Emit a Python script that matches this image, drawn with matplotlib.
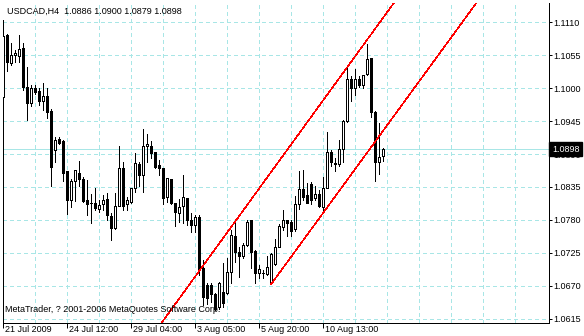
import matplotlib
matplotlib.use("Agg")
import matplotlib.pyplot as plt
from matplotlib.transforms import ScaledTranslation, blended_transform_factory

plt.rcParams['font.family'] = ['Liberation Sans', 'DejaVu Sans']
plt.rcParams['lines.scale_dashes'] = False

symbol = "USDCAD"
timeframe = "H4"

opens = [1.0985, 1.1089, 1.1042, 1.1056, 1.1054, 1.1067, 1.1002, 1.0976, 1.1000, 1.0996,
         1.0979, 1.0987, 1.0962, 1.0896, 1.0915, 1.0912, 1.0862, 1.0813, 1.0845, 1.0858,
         1.0848, 1.0813, 1.0809, 1.0808, 1.0799, 1.0807, 1.0815, 1.0787, 1.0767, 1.0803,
         1.0866, 1.0807, 1.0810, 1.0834, 1.0873, 1.0855, 1.0903, 1.0903, 1.0893, 1.0872,
         1.0866, 1.0819, 1.0848, 1.0808, 1.0792, 1.0803, 1.0816, 1.0780, 1.0772, 1.0785,
         1.0700, 1.0671, 1.0671, 1.0656, 1.0635, 1.0660, 1.0658, 1.0693, 1.0753, 1.0727,
         1.0719, 1.0738, 1.0779, 1.0728, 1.0691, 1.0692, 1.0690, 1.0674, 1.0706, 1.0735,
         1.0768, 1.0779, 1.0777, 1.0764, 1.0807, 1.0831, 1.0822, 1.0840, 1.0816, 1.0824,
         1.0802, 1.0833, 1.0894, 1.0875, 1.0873, 1.0898, 1.0945, 1.1015, 1.1000, 1.1015,
         1.1005, 1.1023, 1.1050, 1.0961, 1.0877, 1.0886]
highs = [1.1114, 1.1090, 1.1075, 1.1064, 1.1089, 1.1076, 1.1036, 1.1005, 1.1005, 1.1000,
         1.1008, 1.1000, 1.0966, 1.0919, 1.0919, 1.0913, 1.0862, 1.0848, 1.0864, 1.0878,
         1.0852, 1.0847, 1.0824, 1.0833, 1.0813, 1.0822, 1.0825, 1.0792, 1.0825, 1.0903,
         1.0877, 1.0819, 1.0834, 1.0892, 1.0877, 1.0931, 1.0924, 1.0912, 1.0893, 1.0880,
         1.0866, 1.0850, 1.0848, 1.0808, 1.0815, 1.0855, 1.0817, 1.0792, 1.0788, 1.0788,
         1.0713, 1.0674, 1.0674, 1.0658, 1.0677, 1.0708, 1.0716, 1.0763, 1.0777, 1.0735,
         1.0742, 1.0780, 1.0780, 1.0730, 1.0705, 1.0696, 1.0720, 1.0724, 1.0748, 1.0773,
         1.0797, 1.0780, 1.0780, 1.0820, 1.0862, 1.0863, 1.0841, 1.0844, 1.0837, 1.0830,
         1.0852, 1.0927, 1.0897, 1.0883, 1.0913, 1.0946, 1.1033, 1.1020, 1.1032, 1.1020,
         1.1022, 1.1074, 1.1051, 1.0962, 1.0942, 1.0900]
lows = [1.0977, 1.1029, 1.1039, 1.1044, 1.1043, 1.0997, 1.0947, 1.0970, 1.0991, 1.0972,
        1.0964, 1.0950, 1.0837, 1.0877, 1.0907, 1.0845, 1.0790, 1.0802, 1.0812, 1.0837,
        1.0810, 1.0788, 1.0775, 1.0797, 1.0794, 1.0797, 1.0780, 1.0746, 1.0764, 1.0803,
        1.0797, 1.0797, 1.0809, 1.0827, 1.0837, 1.0827, 1.0877, 1.0883, 1.0866, 1.0855,
        1.0807, 1.0810, 1.0807, 1.0770, 1.0777, 1.0774, 1.0772, 1.0759, 1.0759, 1.0688,
        1.0638, 1.0640, 1.0643, 1.0630, 1.0631, 1.0635, 1.0657, 1.0674, 1.0710, 1.0684,
        1.0716, 1.0737, 1.0699, 1.0674, 1.0683, 1.0683, 1.0688, 1.0673, 1.0705, 1.0734,
        1.0763, 1.0753, 1.0753, 1.0762, 1.0799, 1.0813, 1.0808, 1.0807, 1.0813, 1.0802,
        1.0794, 1.0833, 1.0870, 1.0861, 1.0870, 1.0876, 1.0944, 1.0979, 1.0989, 1.1002,
        1.1001, 1.1022, 1.0951, 1.0845, 1.0856, 1.0879]
closes = [1.1087, 1.1043, 1.1055, 1.1058, 1.1065, 1.1002, 1.0976, 1.1001, 1.0994, 1.0979,
          1.0987, 1.0961, 1.0869, 1.0913, 1.0909, 1.0859, 1.0813, 1.0845, 1.0863, 1.0848,
          1.0812, 1.0807, 1.0808, 1.0800, 1.0805, 1.0813, 1.0788, 1.0767, 1.0803, 1.0866,
          1.0803, 1.0813, 1.0833, 1.0875, 1.0855, 1.0903, 1.0907, 1.0891, 1.0869, 1.0866,
          1.0817, 1.0850, 1.0809, 1.0794, 1.0802, 1.0818, 1.0780, 1.0772, 1.0785, 1.0698,
          1.0652, 1.0649, 1.0656, 1.0632, 1.0675, 1.0641, 1.0693, 1.0755, 1.0727, 1.0719,
          1.0738, 1.0777, 1.0727, 1.0691, 1.0698, 1.0691, 1.0702, 1.0723, 1.0734, 1.0769,
          1.0780, 1.0775, 1.0762, 1.0807, 1.0831, 1.0819, 1.0809, 1.0813, 1.0823, 1.0803,
          1.0833, 1.0893, 1.0877, 1.0873, 1.0898, 1.0945, 1.1016, 1.1000, 1.1015, 1.1005,
          1.1022, 1.1048, 1.0961, 1.0877, 1.0885, 1.0898]

price_ticks = [1.1110, 1.1055, 1.1000, 1.0945, 1.0890, 1.0835, 1.0780, 1.0725, 1.0670, 1.0615]
time_label_bars = [0, 16, 32, 48, 64, 80]
time_labels = ["21 Jul 2009", "24 Jul 12:00", "29 Jul 04:00", "3 Aug 05:00",
               "5 Aug 20:00", "10 Aug 13:00"]
grid_bars = [8, 16, 24, 32, 40, 48, 56, 64, 72, 80, 88, 96, 104, 112, 120, 128]

upper_channel_bars = [40, 80]
upper_channel_prices = [1.0612, 1.0980]
lower_channel_bars = [67, 94.2]
lower_channel_prices = [1.0673, 1.0922]

copyright_text = "MetaTrader, ? 2001-2006 MetaQuotes Software Corp."

# ---------------------------------------------------------------
W, H = 584, 336
DPI = 100
PX = 72.0 / DPI  # one pixel in points

fig = plt.figure(figsize=(W / DPI, H / DPI), dpi=DPI)
fig.patch.set_facecolor('white')
ax_left, ax_right, ax_top, ax_bottom = 2.5, 548.7, 3.0, 323.0
ax = fig.add_axes([ax_left / W, 1 - ax_bottom / H,
                   (ax_right - ax_left) / W, (ax_bottom - ax_top) / H])
ax.set_facecolor('white')
xmin, xmax = -0.2, 136.35
ymin, ymax = 1.06078, 1.11422
ax.set_xlim(xmin, xmax)
ax.set_ylim(ymin, ymax)

grid_color = '#a8e6e6'
dash = (0, (4 * PX, 3 * PX))
ax.vlines(grid_bars, ymin, ymax, colors=grid_color, linewidth=PX,
          linestyles=[dash], antialiased=False, zorder=0)
ax.hlines(price_ticks, xmin, xmax, colors=grid_color, linewidth=PX,
          linestyles=[dash], antialiased=False, zorder=0)

bid_price = closes[-1]
ax.axhline(bid_price, color='#a8e6e6', linewidth=PX, antialiased=False, zorder=0.5)

# candles
xs = list(range(len(opens)))
ax.vlines(xs, lows, highs, colors='black', linewidth=PX, antialiased=False, zorder=2)
bottoms = [min(o, c) for o, c in zip(opens, closes)]
heights = [max(abs(c - o), 0.00001) for o, c in zip(opens, closes)]
faces = ['white' if c >= o else 'black' for o, c in zip(opens, closes)]
ax.bar(xs, heights, bottom=bottoms, width=0.5, color=faces, edgecolor='black',
       linewidth=PX, antialiased=False, zorder=3)

# channel lines
def extend(bx, py, x0, x1):
    slope = (py[1] - py[0]) / (bx[1] - bx[0])
    return [x0, x1], [py[0] + slope * (x0 - bx[0]), py[0] + slope * (x1 - bx[0])]

ux, uy = extend(upper_channel_bars, upper_channel_prices, 36, 140)
ax.plot(ux, uy, color='red', linewidth=0.5 * PX, antialiased=False, zorder=4)
lx, ly = extend(lower_channel_bars, lower_channel_prices, lower_channel_bars[0], 140)
ax.plot(lx, ly, color='red', linewidth=0.5 * PX, antialiased=False, zorder=4)

# spines
ax.spines['top'].set_visible(False)
for s in ['left', 'right', 'bottom']:
    ax.spines[s].set_color('black')
    ax.spines[s].set_linewidth(PX)
ax.spines['left'].set_bounds(ymin, 1.1114)

# y axis on right
ax.yaxis.tick_right()
ax.set_yticks(price_ticks)
ax.set_yticklabels([f"{v:.4f}" for v in price_ticks])
ax.tick_params(axis='y', direction='out', length=3 * PX, width=PX, pad=1.5,
               labelsize=6.5, colors='black', left=False)

# x axis ticks + labels
ax.set_xticks(time_label_bars)
ax.set_xticklabels([])
ax.tick_params(axis='x', direction='out', length=5 * PX, width=PX, colors='black')
tr = blended_transform_factory(ax.transData, ax.transAxes) + \
    ScaledTranslation(1.5 / DPI, -2.0 / DPI, fig.dpi_scale_trans)
for b, lab in zip(time_label_bars, time_labels):
    ax.text(b, 0, lab, transform=tr, ha='left', va='top', fontsize=6.5,
            color='black', clip_on=False)

# bid price label box (drawn over the 1.0890 axis label, as in MetaTrader)
trb = blended_transform_factory(ax.transAxes, ax.transData) + \
    ScaledTranslation(3.5 / DPI, 0, fig.dpi_scale_trans)
ax.text(1.0, bid_price, f"{bid_price:.4f}", transform=trb, ha='left', va='center',
        fontsize=6.5, color='white', clip_on=False, zorder=10,
        bbox=dict(boxstyle='square,pad=0.3', facecolor='black', edgecolor='black'))

# header and copyright
title = f"{symbol},{timeframe}  {opens[-1]:.4f} {highs[-1]:.4f} {lows[-1]:.4f} {closes[-1]:.4f}"
fig.text(7 / W, 1 - 11 / H, title, ha='left', va='center', fontsize=6.5, color='black')
fig.text(5 / W, 1 - 310 / H, copyright_text, ha='left', va='center', fontsize=6.5,
         color='black')

fig.savefig('out.png', dpi=DPI, facecolor='white')
